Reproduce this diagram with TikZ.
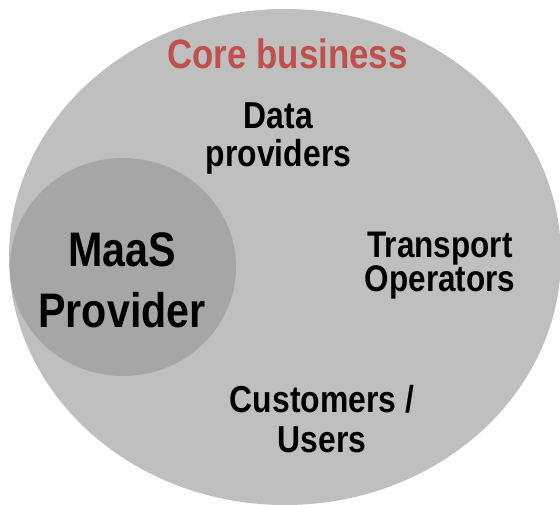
\documentclass[tikz,border=0pt]{standalone}
\usepackage{fontspec}
\newfontfamily\lbl[FakeStretch=0.85]{Liberation Sans}
\definecolor{outerfill}{HTML}{BFBFBF}
\definecolor{innerfill}{HTML}{A6A6A6}
\definecolor{titlered}{HTML}{C0504D}
\tikzset{
  lab/.style={anchor=base, align=center, inner sep=0pt, text=black},
}
\begin{document}
\begin{tikzpicture}[x=1pt,y=-1pt]
  \useasboundingbox (0,0) rectangle (560,505);
  \clip (0,0) rectangle (560,505);
  \fill[outerfill] (285,257) ellipse [x radius=276, y radius=248];
  \fill[innerfill] (123,267) ellipse [x radius=113, y radius=109];
  \node[lab, text=titlered, font={\lbl\bfseries\fontsize{41}{45}\selectfont}] (title) at (287.5,69) {Core business};
  \node[lab, font={\lbl\bfseries\fontsize{37.5}{38}\selectfont}] (data) at (278.5,167) {Data\\providers};
  \node[lab, font={\lbl\bfseries\fontsize{37}{34}\selectfont}] (transport) at (440,292) {Transport\\Operators};
  \node[lab, font={\lbl\bfseries\fontsize{37.5}{40}\selectfont}] (customers) at (322,452) {Customers /\\Users};
  \node[lab, font={\lbl\bfseries\fontsize{48.5}{61}\selectfont}] (maas) at (122,327) {MaaS\\Provider};
\end{tikzpicture}
\end{document}
